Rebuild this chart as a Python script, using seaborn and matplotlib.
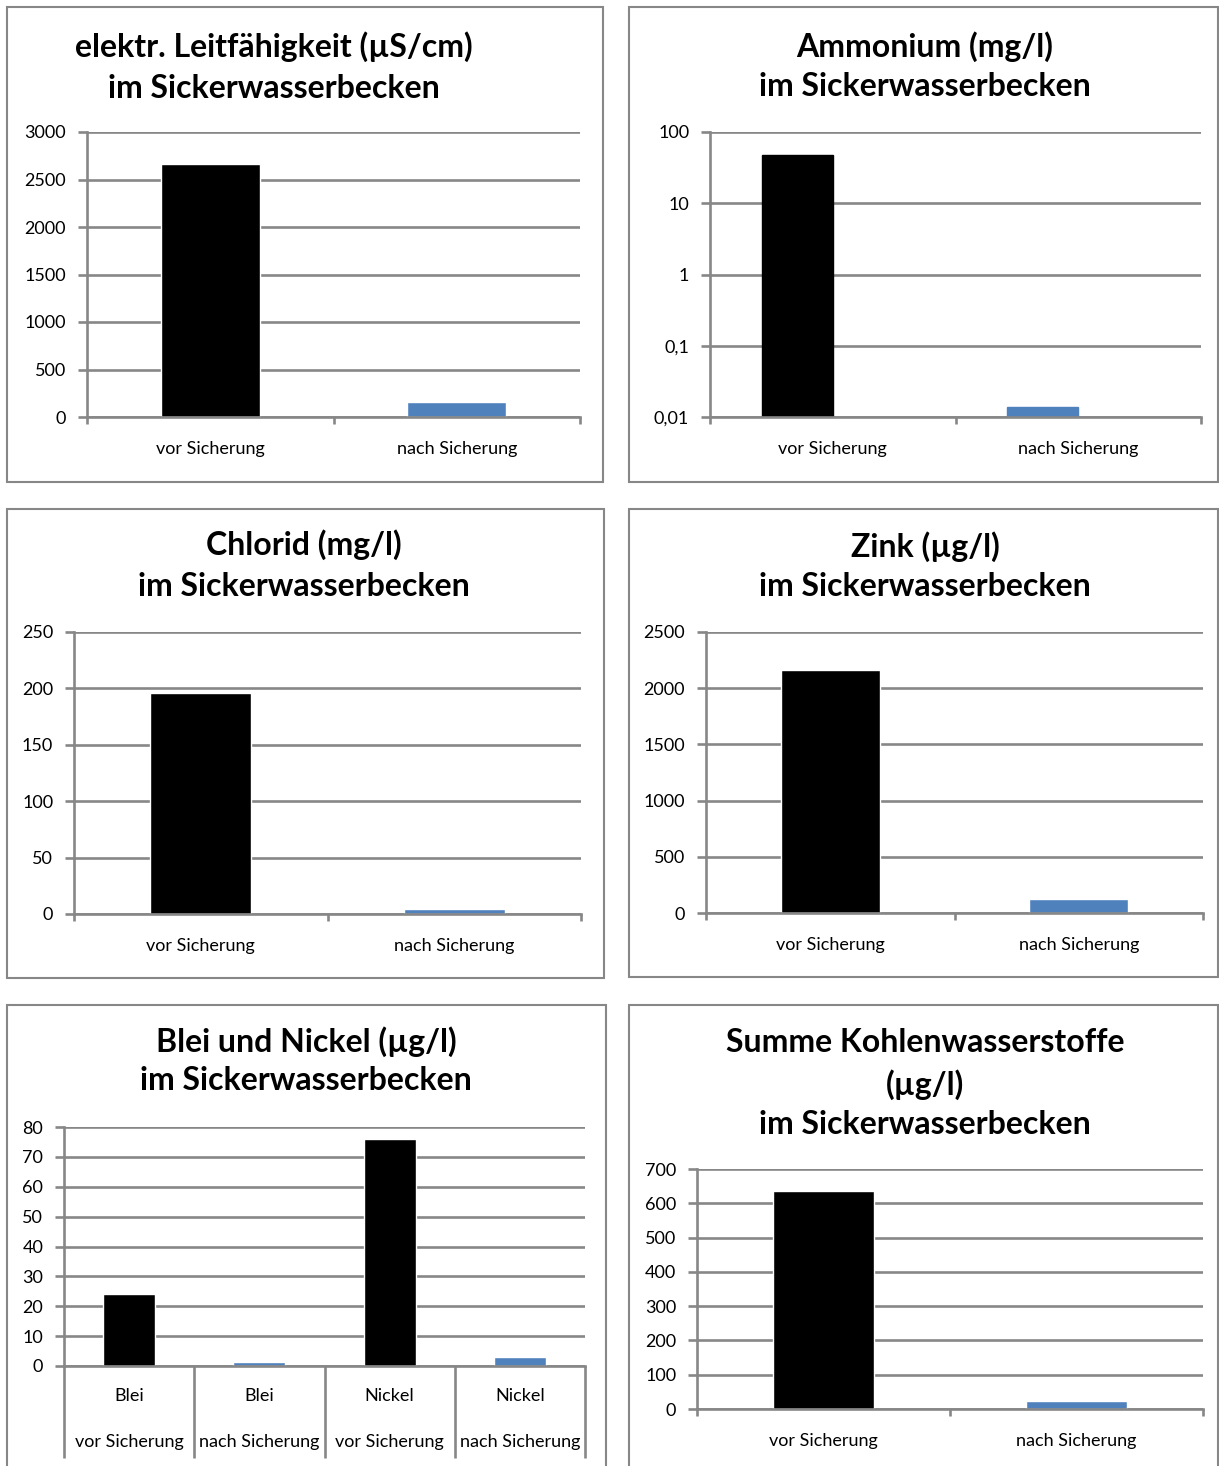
import matplotlib
matplotlib.use("Agg")
import matplotlib.pyplot as plt
import matplotlib.transforms as mtransforms
from matplotlib.patches import Rectangle
import numpy as np
import pandas as pd
import seaborn as sns

# ---- data -------------------------------------------------------------
phases = ["vor Sicherung", "nach Sicherung"]

leitfaehigkeit = [2660, 160]          # µS/cm
ammonium = [47, 0.014]                # mg/l
chlorid = [196, 4]                    # mg/l
zink = [2160, 124]                    # µg/l
kw_summe = [635, 22]                  # µg/l

bn_elements = ["Blei", "Blei", "Nickel", "Nickel"]
bn_phases = ["vor Sicherung", "nach Sicherung", "vor Sicherung", "nach Sicherung"]
bn_values = [24, 1.2, 76, 3]          # µg/l

ticks_leit = [0, 500, 1000, 1500, 2000, 2500, 3000]
ticks_amm = [0.01, 0.1, 1, 10, 100]
labels_amm = ["0,01", "0,1", "1", "10", "100"]
ticks_chl = [0, 50, 100, 150, 200, 250]
ticks_zink = [0, 500, 1000, 1500, 2000, 2500]
ticks_bn = [0, 10, 20, 30, 40, 50, 60, 70, 80]
ticks_kw = [0, 100, 200, 300, 400, 500, 600, 700]

titles = {
    "leit": ["elektr. Leitfähigkeit (µS/cm)", "im Sickerwasserbecken"],
    "amm": ["Ammonium (mg/l)", "im Sickerwasserbecken"],
    "chl": ["Chlorid (mg/l)", "im Sickerwasserbecken"],
    "zink": ["Zink (µg/l)", "im Sickerwasserbecken"],
    "bn": ["Blei und Nickel (µg/l)", "im Sickerwasserbecken"],
    "kw": ["Summe Kohlenwasserstoffe", "(µg/l)", "im Sickerwasserbecken"],
}

# ---- style ------------------------------------------------------------
sns.set_style("white")
plt.rcParams["font.family"] = ["Lato", "DejaVu Sans"]

BLACK = "#000000"
BLUE = "#4F81BD"
GRID = "#878787"
LW = 1.9
phase_colors = {"vor Sicherung": BLACK, "nach Sicherung": BLUE}
TICK_FS = 13
TITLE_FS = 23

W, H = 1219, 1466
fig = plt.figure(figsize=(W / 100, H / 100), dpi=100)
fig.patch.set_facecolor("white")


def add_ax(x0, y0, x1, y1):
    return fig.add_axes([x0 / W, 1 - y1 / H, (x1 - x0) / W, (y1 - y0) / H])


def frame(x0, y0, x1, y1):
    fig.patches.append(Rectangle((x0 / W, 1 - y1 / H), (x1 - x0) / W, (y1 - y0) / H,
                                 transform=fig.transFigure, fill=False,
                                 edgecolor=GRID, linewidth=1.5, zorder=0))


def title(lines, xc, ycs):
    for line, yc in zip(lines, ycs):
        fig.text(xc / W, 1 - yc / H, line, ha="center", va="center",
                 fontsize=TITLE_FS, fontweight="bold", color="black")


def style(ax, yticks, ylabels, n):
    ax.set_facecolor("none")
    for s in ("top", "right"):
        ax.spines[s].set_visible(False)
    for s in ("left", "bottom"):
        ax.spines[s].set_color(GRID)
        ax.spines[s].set_linewidth(LW)
    ax.set_yticks(yticks)
    ax.set_yticklabels(ylabels)
    ax.yaxis.set_minor_locator(matplotlib.ticker.NullLocator())
    ax.set_ylim(yticks[0], yticks[-1])
    ax.yaxis.grid(True, color=GRID, linewidth=LW)
    ax.xaxis.grid(False)
    ax.set_axisbelow(True)
    ax.tick_params(axis="y", which="major", length=6.5, width=LW, color=GRID,
                   pad=8.5, labelsize=TICK_FS, labelcolor="black", left=True)
    ax.set_xlim(-0.5, n - 0.5)
    ax.set_xticks(np.arange(-0.5, n, 1.0), minor=True)
    ax.tick_params(axis="x", which="minor", length=5, width=LW, color=GRID,
                   bottom=True, direction="out")
    ax.tick_params(axis="x", which="major", length=0, pad=17,
                   labelsize=TICK_FS, labelcolor="black")
    ax.set_xlabel("")
    ax.set_ylabel("")


def simple_panel(box, axbox, values, yticks, ylabels, tkey, txc, tys):
    frame(*box)
    ax = add_ax(*axbox)
    df = pd.DataFrame({"phase": phases, "value": values})
    sns.barplot(data=df, x="phase", y="value", hue="phase", order=phases,
                hue_order=phases, palette=phase_colors, width=0.4,
                legend=False, saturation=1, ax=ax)
    style(ax, yticks, ylabels, len(phases))
    title(titles[tkey], txc, tys)
    return ax


# elektrische Leitfähigkeit
simple_panel((7, 7, 603, 482), (87, 132, 580, 417), leitfaehigkeit,
             ticks_leit, [str(t) for t in ticks_leit], "leit", 274, (47, 88))

# Ammonium (logarithmic axis, second series slot left empty)
frame(629, 7, 1218, 482)
ax = add_ax(710, 132, 1201, 417)
ax.set_yscale("log")
df_amm = pd.DataFrame({
    "phase": phases * 2,
    "reihe": ["Messwert"] * 2 + ["leer"] * 2,
    "value": ammonium + [np.nan, np.nan],
})
sns.barplot(data=df_amm, x="phase", y="value", hue="reihe", order=phases,
            hue_order=["Messwert", "leer"], palette={"Messwert": BLACK, "leer": BLUE},
            width=0.58, legend=False, saturation=1, ax=ax)
for patch, ph in zip(ax.containers[0], phases):
    patch.set_facecolor(phase_colors[ph])
    patch.set_edgecolor(phase_colors[ph])
style(ax, ticks_amm, labels_amm, len(phases))
title(titles["amm"], 925, (47, 87))

# Chlorid
simple_panel((7, 509, 604, 978), (74, 632, 581, 914), chlorid,
             ticks_chl, [str(t) for t in ticks_chl], "chl", 304, (545, 587))

# Zink
simple_panel((629, 509, 1218, 977), (706, 632, 1203, 913), zink,
             ticks_zink, [str(t) for t in ticks_zink], "zink", 925, (547, 587))

# Blei und Nickel with a two-row category axis
frame(7, 1005, 606, 1500)
y_top, y_bot = 1127, 1366
ax = add_ax(64, y_top, 585, y_bot)
bn_keys = [f"{e} {p}" for e, p in zip(bn_elements, bn_phases)]
df_bn = pd.DataFrame({"key": bn_keys, "phase": bn_phases, "value": bn_values})
sns.barplot(data=df_bn, x="key", y="value", hue="phase", order=bn_keys,
            hue_order=phases, palette=phase_colors, width=0.4, dodge=False,
            legend=False, saturation=1, ax=ax)
style(ax, ticks_bn, [str(t) for t in ticks_bn], len(bn_keys))
ax.set_xticklabels([])
ax.tick_params(axis="x", which="minor", length=0)


def ax_y(ypx):
    return (y_bot - ypx) / (y_bot - y_top)


trans = mtransforms.blended_transform_factory(ax.transData, ax.transAxes)
for xb in np.arange(-0.5, len(bn_keys), 1.0):
    ax.plot([xb, xb], [0, ax_y(1458)], transform=trans, color=GRID,
            linewidth=LW, clip_on=False, solid_capstyle="butt")
for i, (e, p) in enumerate(zip(bn_elements, bn_phases)):
    ax.text(i, ax_y(1396), e, transform=trans, ha="center", va="center",
            fontsize=TICK_FS, color="black")
    ax.text(i, ax_y(1442), p, transform=trans, ha="center", va="center",
            fontsize=TICK_FS, color="black")
title(titles["bn"], 306, (1042, 1081))

# Summe Kohlenwasserstoffe
simple_panel((629, 1005, 1218, 1500), (697, 1169, 1203, 1409), kw_summe,
             ticks_kw, [str(t) for t in ticks_kw], "kw", 925, (1042, 1085, 1125))

fig.savefig("out.png", dpi=100, facecolor="white")
